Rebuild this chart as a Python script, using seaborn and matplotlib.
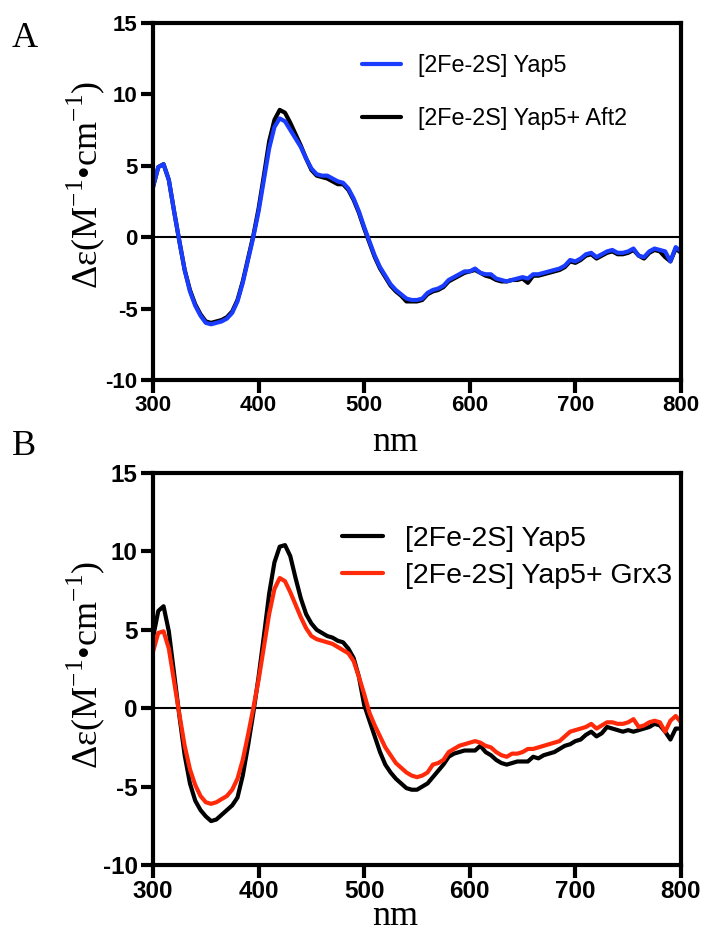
import numpy as np
import pandas as pd
import seaborn as sns
import matplotlib.pyplot as plt

# wavelength grid (nm), 5 nm steps
wl = list(range(300, 801, 5))

# Panel A
yap5_a = [3.5, 4.9, 5.1, 4.0, 1.8, -0.3, -2.3, -3.8, -4.8, -5.5,
          -6.0, -6.1, -6.0, -5.9, -5.7, -5.3, -4.5, -3.2, -1.6, 0.0,
          1.8, 4.0, 6.2, 7.7, 8.3, 8.1, 7.5, 6.9, 6.3, 5.5,
          4.8, 4.4, 4.3, 4.3, 4.1, 3.9, 3.8, 3.4, 2.7, 1.8,
          0.7, -0.3, -1.3, -2.1, -2.7, -3.3, -3.7, -4.0, -4.3, -4.4,
          -4.4, -4.3, -3.9, -3.7, -3.6, -3.4, -3.0, -2.8, -2.6, -2.4,
          -2.4, -2.2, -2.5, -2.6, -2.6, -2.9, -3.0, -3.1, -3.0, -2.9,
          -2.8, -2.9, -2.6, -2.6, -2.5, -2.4, -2.3, -2.2, -2.0, -1.6,
          -1.7, -1.5, -1.2, -1.1, -1.4, -1.2, -1.0, -0.9, -1.1, -1.1,
          -1.0, -0.8, -1.3, -1.4, -1.0, -0.8, -0.9, -1.0, -1.7, -0.7,
          -1.0]
aft2_a = [3.5, 4.9, 5.1, 4.0, 1.8, -0.3, -2.3, -3.7, -4.7, -5.4,
          -5.9, -6.0, -5.9, -5.8, -5.6, -5.2, -4.4, -3.1, -1.5, 0.1,
          2.0, 4.3, 6.7, 8.2, 8.9, 8.7, 8.0, 7.2, 6.4, 5.5,
          4.7, 4.3, 4.2, 4.1, 3.9, 3.7, 3.7, 3.3, 2.6, 1.7,
          0.6, -0.4, -1.4, -2.2, -2.8, -3.4, -3.8, -4.1, -4.5, -4.5,
          -4.5, -4.4, -4.0, -3.8, -3.7, -3.5, -3.1, -2.9, -2.7, -2.5,
          -2.4, -2.3, -2.5, -2.7, -2.8, -3.0, -3.1, -3.1, -3.0, -3.0,
          -2.9, -3.2, -2.7, -2.7, -2.6, -2.5, -2.4, -2.3, -2.1, -1.7,
          -1.8, -1.6, -1.3, -1.2, -1.5, -1.3, -1.1, -1.0, -1.2, -1.2,
          -1.1, -0.9, -1.3, -1.5, -1.1, -0.9, -1.0, -1.4, -1.7, -0.8,
          -1.1]

# Panel B
yap5_b = [4.5, 6.2, 6.5, 4.9, 2.2, -0.5, -3.0, -4.8, -5.9, -6.5,
          -6.9, -7.2, -7.1, -6.8, -6.5, -6.2, -5.7, -4.3, -2.4, -0.3,
          2.0, 4.6, 7.3, 9.3, 10.3, 10.4, 9.7, 8.3, 7.0, 6.0,
          5.4, 5.0, 4.8, 4.6, 4.5, 4.3, 4.2, 3.8, 3.2, 2.0,
          0.2, -0.8, -1.8, -2.8, -3.6, -4.1, -4.5, -4.8, -5.1, -5.2,
          -5.2, -5.0, -4.8, -4.4, -4.0, -3.6, -3.1, -2.9, -2.8, -2.7,
          -2.7, -2.7, -2.4, -2.8, -3.0, -3.3, -3.5, -3.6, -3.5, -3.4,
          -3.4, -3.4, -3.1, -3.2, -3.0, -2.9, -2.8, -2.6, -2.4, -2.3,
          -2.1, -2.0, -1.7, -1.5, -1.8, -1.6, -1.2, -1.3, -1.4, -1.5,
          -1.4, -1.5, -1.4, -1.3, -1.2, -1.0, -1.1, -1.5, -2.0, -1.3,
          -1.3]
grx3_b = [3.6, 4.8, 4.9, 3.8, 1.7, -0.4, -2.4, -3.9, -4.9, -5.6,
          -6.0, -6.1, -6.0, -5.8, -5.6, -5.2, -4.5, -3.3, -1.7, 0.0,
          1.8, 3.9, 6.0, 7.6, 8.3, 8.1, 7.4, 6.6, 5.8, 5.1,
          4.6, 4.4, 4.3, 4.2, 4.1, 3.9, 3.7, 3.5, 3.0, 2.0,
          0.9, -0.3, -1.1, -1.8, -2.5, -3.0, -3.5, -3.8, -4.1, -4.3,
          -4.4, -4.3, -4.1, -3.6, -3.5, -3.3, -2.8, -2.6, -2.4, -2.3,
          -2.2, -2.1, -2.2, -2.4, -2.5, -2.8, -3.0, -3.1, -2.9, -2.9,
          -2.8, -2.6, -2.6, -2.5, -2.4, -2.3, -2.2, -2.1, -1.8, -1.5,
          -1.4, -1.3, -1.2, -1.0, -1.3, -1.1, -0.9, -0.9, -1.0, -1.0,
          -0.9, -0.7, -1.2, -1.1, -0.9, -0.8, -0.9, -1.5, -0.8, -0.5,
          -0.9]

label_a = ['[2Fe-2S] Yap5', '[2Fe-2S] Yap5+ Aft2']
label_b = ['[2Fe-2S] Yap5', '[2Fe-2S] Yap5+ Grx3']
blue = '#1a3cff'
red = '#ff2a0a'

sns.set_theme(style='white')
plt.rcParams['font.family'] = ['Liberation Sans', 'DejaVu Sans']
plt.rcParams['mathtext.fontset'] = 'custom'
plt.rcParams['mathtext.rm'] = 'Liberation Serif'
plt.rcParams['axes.unicode_minus'] = False
for k in ['text.color', 'axes.labelcolor', 'xtick.color', 'ytick.color']:
    plt.rcParams[k] = 'black'

fig = plt.figure(figsize=(7.07, 9.34), dpi=100)
ax_a = fig.add_axes([0.2164, 0.5931, 0.7468, 0.3826])
ax_b = fig.add_axes([0.2164, 0.0739, 0.7468, 0.4197])

ylab = r'Δε(M$^{\mathregular{-1}}$•cm$^{\mathregular{-1}}$)'


def style_axes(ax, tick_fs):
    ax.set_xlim(300, 800)
    ax.set_ylim(-10, 15)
    ax.set_xticks(range(300, 801, 100))
    ax.set_yticks(range(-10, 16, 5))
    for s in ax.spines.values():
        s.set_linewidth(3)
        s.set_color('black')
    ax.tick_params(axis='both', direction='out', length=9, width=3,
                   color='black', labelcolor='black', left=True, bottom=True,
                   top=False, right=False, labelsize=tick_fs, pad=2)
    for lab in ax.get_xticklabels() + ax.get_yticklabels():
        lab.set_fontweight('bold')
    ax.axhline(0, color='black', lw=1.5, zorder=1)
    ax.set_xlabel('')
    ax.set_ylabel('')


# Panel A
sns.lineplot(x=wl, y=aft2_a, ax=ax_a, color='black', lw=3, label=label_a[1])
sns.lineplot(x=wl, y=yap5_a, ax=ax_a, color=blue, lw=3, label=label_a[0])
style_axes(ax_a, 16)
h, l = ax_a.get_legend_handles_labels()
ax_a.legend(h[::-1], l[::-1], loc='upper left', bbox_to_anchor=(0.396, 0.913),
            frameon=False, fontsize=16.8, borderpad=0, handlelength=1.65,
            handletextpad=0.75, labelspacing=1.3, borderaxespad=0)
ax_a.text(-0.127, 0.546, ylab, transform=ax_a.transAxes, rotation=90,
          ha='center', va='center', fontsize=26, family='Liberation Serif')
ax_a.text(0.458, -0.199, 'nm', transform=ax_a.transAxes, ha='center',
          va='baseline', fontsize=26, family='Liberation Serif')

# Panel B
sns.lineplot(x=wl, y=yap5_b, ax=ax_b, color='black', lw=3, label=label_b[0])
sns.lineplot(x=wl, y=grx3_b, ax=ax_b, color=red, lw=3, label=label_b[1])
style_axes(ax_b, 17.5)
ax_b.legend(loc='upper left', bbox_to_anchor=(0.358, 0.866),
            frameon=False, fontsize=20.5, borderpad=0, handlelength=1.45,
            handletextpad=0.75, labelspacing=0.4, borderaxespad=0)
ax_b.text(-0.127, 0.51, ylab, transform=ax_b.transAxes, rotation=90,
          ha='center', va='center', fontsize=26, family='Liberation Serif')
fig.text(395 / 707, 1 / 934, 'nm', ha='center', va='bottom',
         fontsize=26, family='Liberation Serif')

fig.text(12 / 707, 1 - 47 / 934, 'A', ha='left', va='baseline',
         fontsize=26, family='Liberation Serif')
fig.text(12 / 707, 1 - 455 / 934, 'B', ha='left', va='baseline',
         fontsize=26, family='Liberation Serif')

fig.savefig('out.png', dpi=100)
